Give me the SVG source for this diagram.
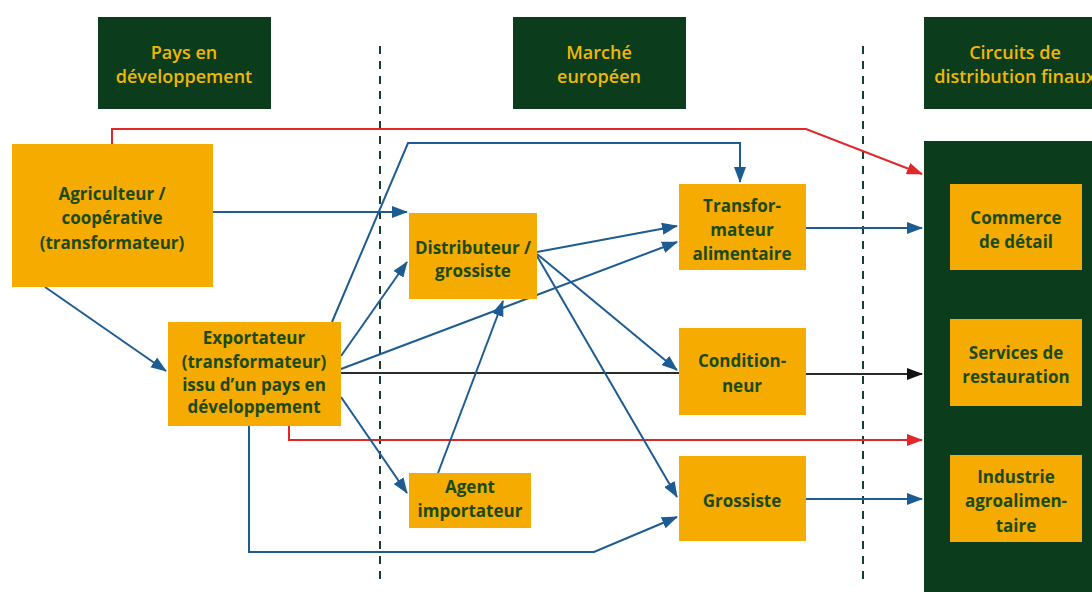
<svg xmlns="http://www.w3.org/2000/svg" width="1092" height="592" viewBox="0 0 1092 592">
<style>
.hdr{fill:#0b3d1c}
.hdrt{font-family:"Open Sans","Liberation Sans",sans-serif;font-size:18px;font-weight:600;fill:#f2b705;text-anchor:middle}
.node{fill:#f6ab00}
.nt{font-family:"Open Sans","Liberation Sans",sans-serif;font-size:17px;font-weight:700;fill:#1b4a1a;text-anchor:middle}
.blue{fill:none;stroke:#1d5c92;stroke-width:2}
.red{fill:none;stroke:#e3262a;stroke-width:2}
.blk{fill:none;stroke:#2b2b2b;stroke-width:2}
.dash{fill:none;stroke:#15402a;stroke-width:2;stroke-dasharray:8 7}
</style>
<defs>
<marker id="ab" markerUnits="userSpaceOnUse" markerWidth="16" markerHeight="12" refX="15" refY="6" orient="auto"><path d="M0,0 L16,6 L0,12 z" fill="#1d5c92"/></marker>
<marker id="ar" markerUnits="userSpaceOnUse" markerWidth="16" markerHeight="12" refX="15" refY="6" orient="auto"><path d="M0,0 L16,6 L0,12 z" fill="#e3262a"/></marker>
<marker id="ak" markerUnits="userSpaceOnUse" markerWidth="16" markerHeight="12" refX="15" refY="6" orient="auto"><path d="M0,0 L16,6 L0,12 z" fill="#111"/></marker>
</defs>
<rect width="1092" height="592" fill="#ffffff"/>
<g id="separators">
<line class="dash" x1="380" y1="46" x2="380" y2="584"/>
<line class="dash" x1="863" y1="46" x2="863" y2="584"/>
</g>
<g id="header-pays">
<rect class="hdr" x="98" y="17" width="173" height="92"/>
<text class="hdrt" x="184" y="59">Pays en</text>
<text class="hdrt" x="184" y="83">développement</text>
</g>
<g id="header-marche">
<rect class="hdr" x="513" y="17" width="173" height="92"/>
<text class="hdrt" x="599" y="59">Marché</text>
<text class="hdrt" x="599" y="83">européen</text>
</g>
<g id="header-circuits">
<rect class="hdr" x="924" y="17" width="180" height="92"/>
<text class="hdrt" x="1015" y="59">Circuits de</text>
<text class="hdrt" x="1015" y="83">distribution finaux</text>
</g>
<g id="panel-final">
<rect class="hdr" x="924" y="141" width="170" height="455"/>
</g>
<g id="connectors">
<path class="red" d="M112,144 V129 H806 L922,174" marker-end="url(#ar)"/>
<path class="red" d="M289,426 V440 H922" marker-end="url(#ar)"/>
<path class="blue" d="M213,212 H407" marker-end="url(#ab)"/>
<path class="blue" d="M45,287 L166,371" marker-end="url(#ab)"/>
<path class="blue" d="M332,322 L408,143 H740 V182" marker-end="url(#ab)"/>
<path class="blue" d="M341,356 L407,262" marker-end="url(#ab)"/>
<path class="blue" d="M341,369 L677,242" marker-end="url(#ab)"/>
<path class="blk" d="M341,373 H679"/>
<path class="blue" d="M341,397 L407,493" marker-end="url(#ab)"/>
<path class="blue" d="M249,426 V552 H594 L677,517" marker-end="url(#ab)"/>
<path class="blue" d="M438,473 L503,301" marker-end="url(#ab)"/>
<path class="blue" d="M537,252 L677,226" marker-end="url(#ab)"/>
<path class="blue" d="M537,254 L677,370" marker-end="url(#ab)"/>
<path class="blue" d="M537,256 L677,497" marker-end="url(#ab)"/>
<path class="blue" d="M806,228 H922" marker-end="url(#ab)"/>
<path class="blk" d="M806,374 H922" marker-end="url(#ak)"/>
<path class="blue" d="M806,499 H922" marker-end="url(#ab)"/>
</g>
<g id="agriculteur">
<rect class="node" x="12" y="144" width="201" height="143"/>
<text class="nt" x="112" y="200">Agriculteur /</text>
<text class="nt" x="112" y="224">coopérative</text>
<text class="nt" x="112" y="249">(transformateur)</text>
</g>
<g id="exportateur">
<rect class="node" x="168" y="322" width="173" height="104"/>
<text class="nt" x="254" y="344">Exportateur</text>
<text class="nt" x="254" y="368">(transformateur)</text>
<text class="nt" x="254" y="391">issu d’un pays en</text>
<text class="nt" x="254" y="413">développement</text>
</g>
<g id="distributeur">
<rect class="node" x="409" y="213" width="128" height="86"/>
<text class="nt" x="473" y="254">Distributeur /</text>
<text class="nt" x="473" y="277">grossiste</text>
</g>
<g id="agent">
<rect class="node" x="409" y="473" width="122" height="55"/>
<text class="nt" x="470" y="493">Agent</text>
<text class="nt" x="470" y="517">importateur</text>
</g>
<g id="transformateur">
<rect class="node" x="679" y="184" width="127" height="86"/>
<text class="nt" x="742" y="212">Transfor-</text>
<text class="nt" x="742" y="236">mateur</text>
<text class="nt" x="742" y="260">alimentaire</text>
</g>
<g id="conditionneur">
<rect class="node" x="679" y="328" width="127" height="87"/>
<text class="nt" x="742" y="367">Condition-</text>
<text class="nt" x="742" y="392">neur</text>
</g>
<g id="grossiste">
<rect class="node" x="679" y="456" width="127" height="85"/>
<text class="nt" x="742" y="507">Grossiste</text>
</g>
<g id="commerce">
<rect class="node" x="950" y="184" width="132" height="86"/>
<text class="nt" x="1016" y="224">Commerce</text>
<text class="nt" x="1016" y="248">de détail</text>
</g>
<g id="services">
<rect class="node" x="950" y="319" width="132" height="87"/>
<text class="nt" x="1016" y="359">Services de</text>
<text class="nt" x="1016" y="383">restauration</text>
</g>
<g id="industrie">
<rect class="node" x="950" y="455" width="132" height="87"/>
<text class="nt" x="1016" y="483">Industrie</text>
<text class="nt" x="1016" y="507">agroalimen-</text>
<text class="nt" x="1016" y="532">taire</text>
</g>
</svg>
